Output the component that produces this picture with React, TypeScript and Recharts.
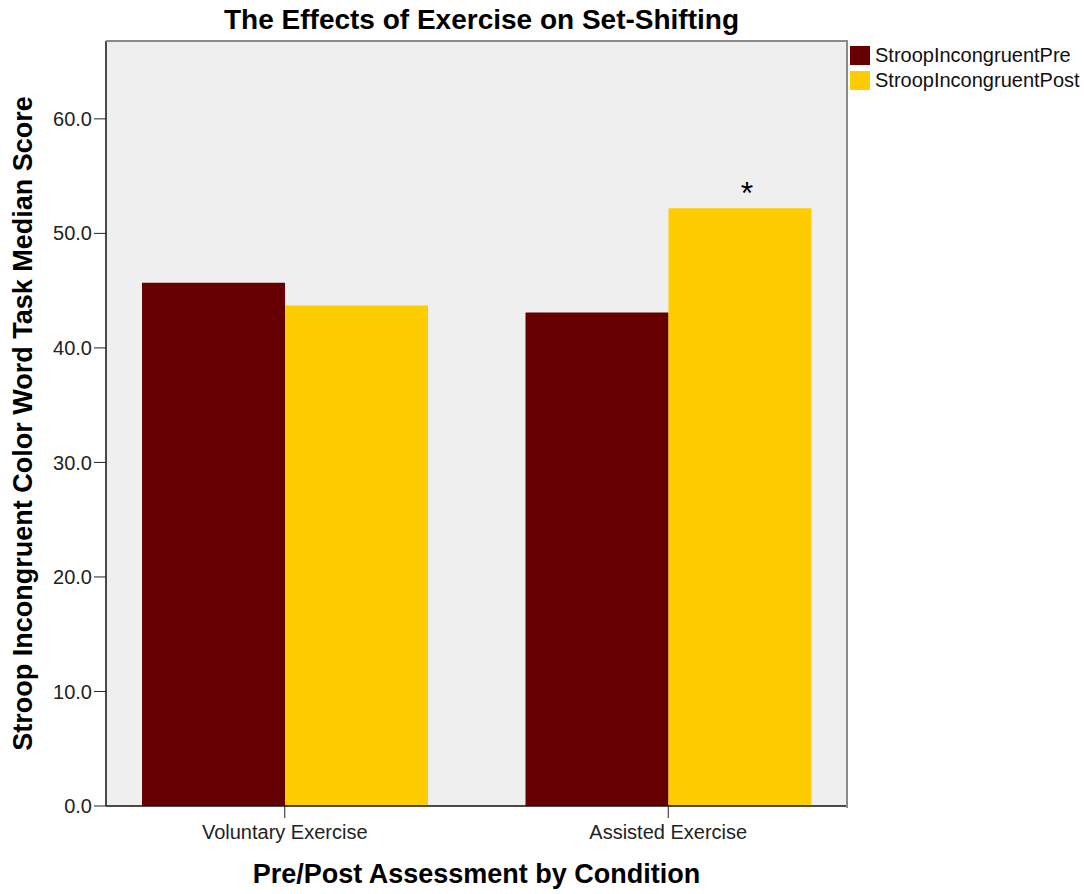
import { Bar, BarChart, CartesianGrid, Label, LabelList, XAxis, YAxis } from "recharts";

const conditions = ["Voluntary Exercise", "Assisted Exercise"];
const preScores = [45.7, 43.1];
const postScores = [43.7, 52.2];
const significance = ["", "*"];
const yTicks = [0, 10, 20, 30, 40, 50, 60];

const seriesNames = ["StroopIncongruentPre", "StroopIncongruentPost"];
const PRE = "#660000";
const POST = "#FFCC00";
const FONT = "'Liberation Sans', Arial, sans-serif";

const data = conditions.map((c, i) => ({
  condition: c,
  pre: preScores[i],
  post: postScores[i],
  mark: significance[i],
}));

// legend drawn outside the chart so it doesn't eat plot space
function LegendBox() {
  const colors = [PRE, POST];
  return (
    <div style={{ position: "absolute", left: 850, top: 43, fontFamily: FONT, fontSize: 20, color: "#111" }}>
      {seriesNames.map((name, i) => (
        <div key={name} style={{ display: "flex", alignItems: "center", height: 25 }}>
          <span style={{ width: 20, height: 19, background: colors[i], marginRight: 5, display: "inline-block" }} />
          <span style={{ lineHeight: "25px" }}>{name}</span>
        </div>
      ))}
    </div>
  );
}

// asterisk over the significant bar
function SigMark(props: any) {
  const { x, y, width, value } = props;
  if (!value) return null;
  return (
    <text x={x + width / 2 + 7} y={y - 4} textAnchor="middle" fontSize={32} fontFamily={FONT} fill="#000">
      {value}
    </text>
  );
}

export default function App() {
  return (
    <div style={{ position: "absolute", left: 0, top: 0, width: 1084, height: 894, background: "#fff" }}>
      <div
        style={{
          position: "absolute",
          left: 0,
          width: 963,
          top: 6,
          textAlign: "center",
          fontFamily: FONT,
          fontWeight: 700,
          fontSize: 28,
          lineHeight: "28px",
          color: "#000",
        }}
      >
        The Effects of Exercise on Set-Shifting
      </div>
      <BarChart
        width={1084}
        height={894}
        data={data}
        margin={{ top: 41, right: 237, bottom: 0, left: 6 }}
        barGap={0}
        barSize={143}
        style={{ fontFamily: FONT }}
      >
        <CartesianGrid fill="#EFEFEF" horizontal={false} vertical={false} />
        <XAxis
          dataKey="condition"
          height={88}
          padding={{ left: -13, right: -13 }}
          axisLine={{ stroke: "#111", strokeWidth: 1.5 }}
          tickLine={{ stroke: "#222" }}
          tickSize={12}
          tickMargin={7}
          tick={{ fontSize: 20, fill: "#222" }}
        >
          <Label
            value="Pre/Post Assessment by Condition"
            position="insideBottom"
            offset={11}
            style={{ fontSize: 27, fontWeight: 700, fill: "#000" }}
          />
        </XAxis>
        <YAxis
          width={100}
          domain={[0, 66.8]}
          ticks={yTicks}
          allowDataOverflow
          tickFormatter={(v: number) => v.toFixed(1)}
          axisLine={{ stroke: "#111", strokeWidth: 1.5 }}
          tickLine={{ stroke: "#222" }}
          tickSize={12}
          tickMargin={2}
          tick={{ fontSize: 20, fill: "#222" }}
        >
          <Label
            value="Stroop Incongruent Color Word Task Median Score"
            angle={-90}
            position="insideLeft"
            offset={16}
            style={{ fontSize: 27, fontWeight: 700, fill: "#000", textAnchor: "middle" }}
          />
        </YAxis>
        <Bar dataKey="pre" name={seriesNames[0]} fill={PRE} isAnimationActive={false} />
        <Bar dataKey="post" name={seriesNames[1]} fill={POST} isAnimationActive={false}>
          <LabelList dataKey="mark" content={SigMark} />
        </Bar>
      </BarChart>
      <LegendBox />
      <div
        style={{
          position: "absolute",
          left: 106,
          top: 40,
          width: 740,
          height: 766,
          borderTop: "2px solid #8a8a8a",
          borderRight: "2px solid #8a8a8a",
          pointerEvents: "none",
        }}
      />
    </div>
  );
}
